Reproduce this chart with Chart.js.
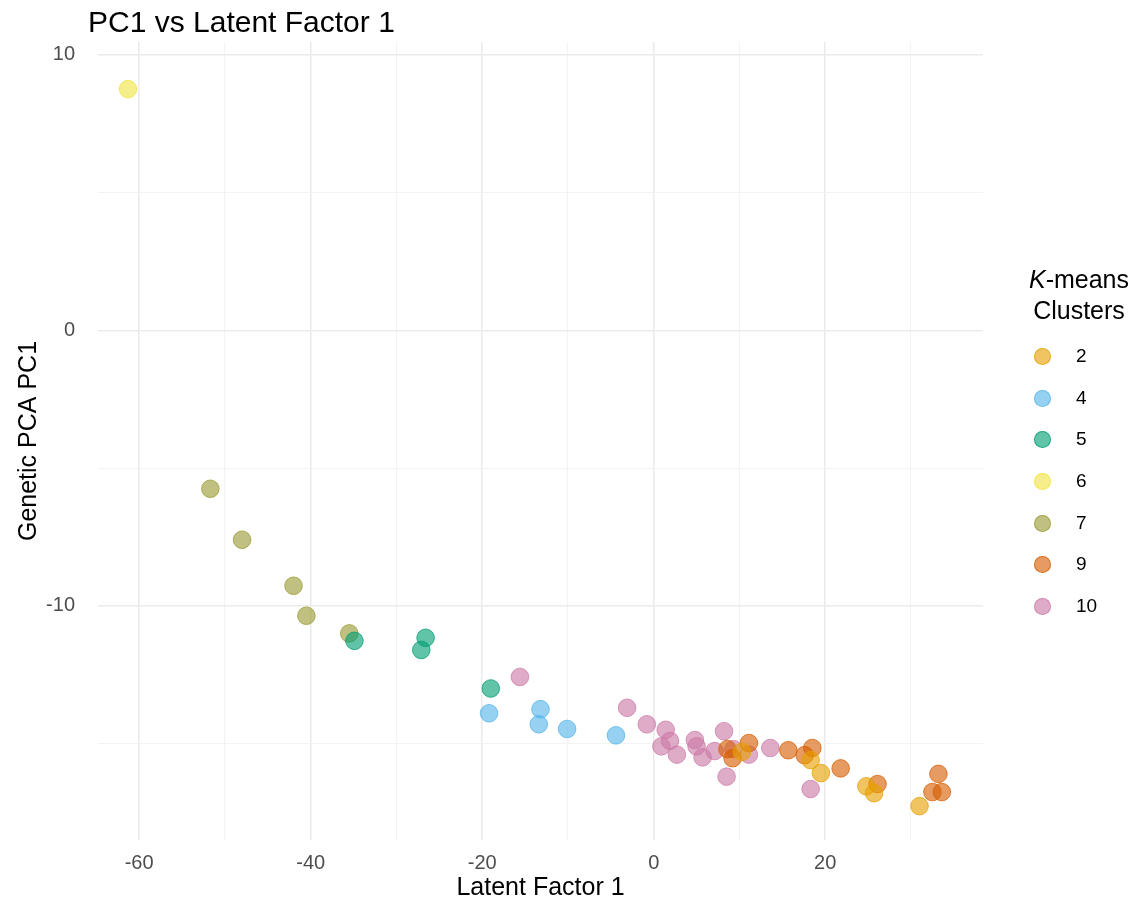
<!DOCTYPE html>
<html>
<head>
<meta charset="utf-8">
<script src="https://cdn.jsdelivr.net/npm/chart.js@4"></script>
<style>
  body { margin: 0; background: #fff; font-family: "Liberation Sans", Arial, sans-serif; }
  #wrap { position: relative; width: 1134px; height: 902px; }
  #title { position: absolute; left: 88px; top: 5px; font-size: 30px; color: #000; }
  #legend { position: absolute; left: 1017px; top: 264px; width: 124px; color: #000; }
  #legend .head { text-align: center; font-size: 25px; line-height: 31px; }
  #legend .item { position: relative; height: 41.7px; font-size: 19px; }
  #legend .dot { position: absolute; left: 16.5px; top: 12px; width: 17px; height: 17px; border-radius: 50%; box-sizing: border-box; }
  #legend .lab { position: absolute; left: 59px; top: 9px; }
</style>
</head>
<body>
<div id="wrap">
  <canvas id="chart" width="1134" height="902"></canvas>
  <div id="title">PC1 vs Latent Factor 1</div>
  <div id="legend"><div class="head"><i>K</i>-means<br>Clusters</div><div style="height:10px"></div></div>
</div>
<script>
const clusters = ['2', '4', '5', '6', '7', '9', '10'];
const clusterColors = ['230,159,0', '86,180,233', '0,158,115', '240,228,66', '153,153,51', '213,94,0', '204,121,167'];

// latent factor 1 (x) and genetic PC1 (y) per cluster
const lf2 = [10.3, 18.3, 19.5, 24.8, 25.7, 31.0];
const pc2 = [-15.3, -15.6, -16.07, -16.55, -16.8, -17.27];
const lf4 = [-19.2, -13.2, -13.4, -10.1, -4.4];
const pc4 = [-13.9, -13.75, -14.3, -14.47, -14.7];
const lf5 = [-34.9, -26.6, -27.1, -19.0];
const pc5 = [-11.27, -11.16, -11.6, -13.0];
const lf6 = [-61.3];
const pc6 = [8.76];
const lf7 = [-51.7, -48.0, -42.0, -40.5, -35.5];
const pc7 = [-5.75, -7.6, -9.27, -10.36, -11.0];
const lf9 = [8.6, 9.2, 11.1, 15.7, 17.6, 18.5, 21.8, 26.1, 33.2, 32.5, 33.6];
const pc9 = [-15.2, -15.53, -14.98, -15.24, -15.42, -15.16, -15.9, -16.47, -16.1, -16.76, -16.76];
const lf10 = [-15.6, -3.1, -0.8, 1.4, 1.9, 0.9, 2.7, 4.8, 5.0, 5.7, 7.1, 8.2, 8.5, 9.3, 11.1, 13.6, 18.3];
const pc10 = [-12.58, -13.7, -14.3, -14.5, -14.9, -15.1, -15.4, -14.87, -15.1, -15.5, -15.27, -14.55, -16.2, -15.2, -15.4, -15.16, -16.65];

const xValues = [lf2, lf4, lf5, lf6, lf7, lf9, lf10];
const yValues = [pc2, pc4, pc5, pc6, pc7, pc9, pc10];

const xTicks = [-60, -50, -40, -30, -20, -10, 0, 10, 20, 30];
const xLabelled = [-60, -40, -20, 0, 20];
const yTicks = [10, 5, 0, -5, -10, -15];
const yLabelled = [10, 0, -10];

const datasets = clusters.map((name, i) => ({
    label: name,
    data: xValues[i].map((x, j) => ({ x: x, y: yValues[i][j] })),
    backgroundColor: `rgba(${clusterColors[i]},0.62)`,
    borderColor: `rgba(${clusterColors[i]},0.75)`,
    borderWidth: 1,
    pointRadius: 8.8,
    pointHoverRadius: 8.8
}));

const legend = document.getElementById('legend');
clusters.forEach((name, i) => {
    const item = document.createElement('div');
    item.className = 'item';
    item.innerHTML = `<div class="dot" style="background:rgba(${clusterColors[i]},0.62);border:1px solid rgba(${clusterColors[i]},0.75)"></div><div class="lab">${name}</div>`;
    legend.appendChild(item);
});

const gridStyle = (labelled) => ({
    color: ctx => labelled.includes(ctx.tick.value) ? '#ebebeb' : '#f2f2f2',
    lineWidth: ctx => labelled.includes(ctx.tick.value) ? 1.6 : 0.9,
    drawTicks: false
});

const tickFont = { family: '"Liberation Sans", Arial, sans-serif', size: 20 };
const titleFont = { family: '"Liberation Sans", Arial, sans-serif', size: 25 };

new Chart(document.getElementById('chart'), {
    type: 'scatter',
    data: { datasets: datasets },
    options: {
        responsive: false,
        animation: false,
        layout: { padding: { left: 0, top: 42, right: 151, bottom: 0 } },
        plugins: { legend: { display: false }, tooltip: { enabled: false } },
        scales: {
            x: {
                min: -64.8,
                max: 38.4,
                border: { display: false },
                grid: gridStyle(xLabelled),
                afterBuildTicks: axis => { axis.ticks = xTicks.map(v => ({ value: v })); },
                afterFit: axis => { axis.height = 62; },
                ticks: {
                    autoSkip: false,
                    maxRotation: 0,
                    padding: 11,
                    color: '#4d4d4d',
                    font: tickFont,
                    callback: v => xLabelled.includes(v) ? String(v) : ''
                },
                title: { display: true, text: 'Latent Factor 1', color: '#000', font: titleFont, padding: { top: 0, bottom: -1 } }
            },
            y: {
                min: -18.5,
                max: 10.47,
                border: { display: false },
                grid: gridStyle(yLabelled),
                afterBuildTicks: axis => { axis.ticks = yTicks.map(v => ({ value: v })); },
                afterFit: axis => { axis.width = 98; },
                ticks: {
                    autoSkip: false,
                    padding: 23,
                    color: '#4d4d4d',
                    font: tickFont,
                    callback: v => yLabelled.includes(v) ? String(v) : ''
                },
                title: { display: true, text: 'Genetic PCA PC1', color: '#000', font: titleFont, padding: { top: 14, bottom: 0 } }
            }
        }
    }
});
</script>
</body>
</html>
